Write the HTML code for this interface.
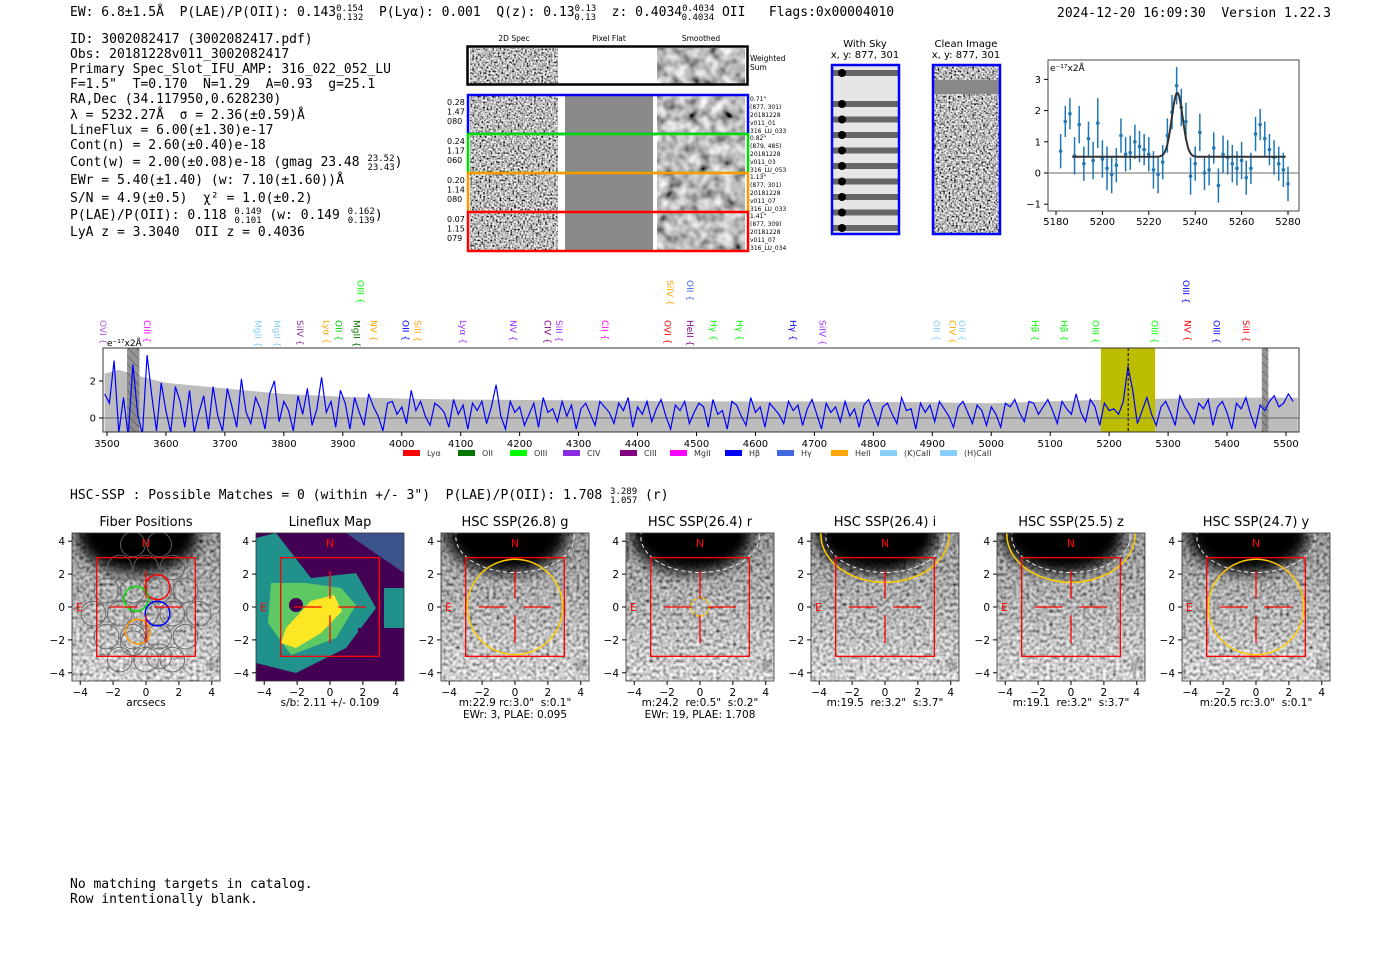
<!DOCTYPE html>
<html><head><meta charset="utf-8">
<style>
body{margin:0;background:#fff;width:1400px;height:953px;overflow:hidden;font-family:"DejaVu Sans","Liberation Sans",sans-serif}
svg{position:absolute;left:0;top:0}
text{white-space:pre}
.mono{font-family:"DejaVu Sans Mono","Liberation Mono",monospace}
</style></head><body>
<svg id="s" width="1400" height="953" xmlns="http://www.w3.org/2000/svg" xml:space="preserve">
<defs>
<filter id="nz" x="0" y="0" width="1" height="1"><feTurbulence type="fractalNoise" baseFrequency="0.55" numOctaves="1" seed="3"/><feColorMatrix type="matrix" values="2.4 0 0 0 -0.7 2.4 0 0 0 -0.7 2.4 0 0 0 -0.7 0 0 0 0 1"/></filter>
<filter id="nzs" x="0" y="0" width="1" height="1"><feTurbulence type="fractalNoise" baseFrequency="0.09" numOctaves="2" seed="7"/><feColorMatrix type="matrix" values="1.4 0 0 0 -0.2 1.4 0 0 0 -0.2 1.4 0 0 0 -0.2 0 0 0 0 1"/></filter>
<filter id="nzl" x="0" y="0" width="1" height="1"><feTurbulence type="fractalNoise" baseFrequency="0.3" numOctaves="1" seed="11"/><feColorMatrix type="matrix" values="1.8 0 0 0 -0.35 1.8 0 0 0 -0.35 1.8 0 0 0 -0.35 0 0 0 0 1"/></filter>
<filter id="blur"><feGaussianBlur stdDeviation="7"/></filter>
<linearGradient id="shade" x1="0" y1="0" x2="0" y2="1"><stop offset="0" stop-color="#000" stop-opacity="0.25"/><stop offset="1" stop-color="#fff" stop-opacity="0.25"/></linearGradient>
<pattern id="hatch" width="6" height="6" patternUnits="userSpaceOnUse" patternTransform="rotate(-45)"><rect width="6" height="6" fill="#888"/><line x1="0" y1="0" x2="0" y2="6" stroke="#333" stroke-width="1"/></pattern>
</defs>

<g class="mono" font-size="13" fill="#000">
<text x="70" y="16">EW: 6.8±1.5Å  P(LAE)/P(OII): 0.143<tspan font-size="9" dy="-5">0.154</tspan><tspan font-size="9" dx="-27" dy="9">0.132</tspan><tspan dy="-4">  P(Lyα): 0.001  Q(z): 0.13</tspan><tspan font-size="9" dy="-5">0.13</tspan><tspan font-size="9" dx="-22" dy="9">0.13</tspan><tspan dy="-4">  z: 0.4034</tspan><tspan font-size="9" dy="-5">0.4034</tspan><tspan font-size="9" dx="-33" dy="9">0.4034</tspan><tspan dy="-4"> OII   Flags:0x00004010</tspan></text>
<text x="1057" y="17">2024-12-20 16:09:30  Version 1.22.3</text>
</g>
<g class="mono" font-size="13" fill="#000">
<text x="70" y="43">ID: 3002082417 (3002082417.pdf)</text>
<text x="70" y="58">Obs: 20181228v011_3002082417</text>
<text x="70" y="73">Primary Spec_Slot_IFU_AMP: 316_022_052_LU</text>
<text x="70" y="88">F=1.5"  T=0.170  N=1.29  A=0.93  g=25.1</text>
<text x="70" y="103">RA,Dec (34.117950,0.628230)</text>
<text x="70" y="119">λ = 5232.27Å  σ = 2.36(±0.59)Å</text>
<text x="70" y="134">LineFlux = 6.00(±1.30)e-17</text>
<text x="70" y="149">Cont(n) = 2.60(±0.40)e-18</text>
<text x="70" y="166">Cont(w) = 2.00(±0.08)e-18 (gmag 23.48 <tspan font-size="9" dy="-5">23.52</tspan><tspan font-size="9" dx="-27" dy="9">23.43</tspan><tspan dy="-4">)</tspan></text>
<text x="70" y="184">EWr = 5.40(±1.40) (w: 7.10(±1.60))Å</text>
<text x="70" y="202">S/N = 4.9(±0.5)  χ² = 1.0(±0.2)</text>
<text x="70" y="219">P(LAE)/P(OII): 0.118 <tspan font-size="9" dy="-5">0.149</tspan><tspan font-size="9" dx="-27" dy="9">0.101</tspan><tspan dy="-4"> (w: 0.149 </tspan><tspan font-size="9" dy="-5">0.162</tspan><tspan font-size="9" dx="-27" dy="9">0.139</tspan><tspan dy="-4">)</tspan></text>
<text x="70" y="236">LyA z = 3.3040  OII z = 0.4036</text>
</g>

<g font-size="7.5">
<text x="514" y="41" text-anchor="middle">2D Spec</text>
<text x="609" y="41" text-anchor="middle">Pixel Flat</text>
<text x="701" y="41" text-anchor="middle">Smoothed</text>
<rect x="470" y="48" width="88" height="36" filter="url(#nz)"/>
<rect x="657" y="48" width="88" height="36" filter="url(#nzs)"/>
<rect x="467.5" y="46.5" width="280" height="38" fill="none" stroke="#000" stroke-width="2.5"/>
<text x="750" y="61">Weighted</text><text x="750" y="70">Sum</text>
<g id="rows"></g>
</g>
<g font-size="10">
<text x="865" y="47" text-anchor="middle">With Sky</text>
<text x="865" y="58" text-anchor="middle">x, y: 877, 301</text>
<text x="966" y="47" text-anchor="middle">Clean Image</text>
<text x="966" y="58" text-anchor="middle">x, y: 877, 301</text>
<rect x="832" y="65" width="67" height="169" fill="#e6e6e6"/>
<g id="skyrows"></g>
<rect x="832" y="65" width="67" height="169" fill="none" stroke="#00f" stroke-width="2.5"/>
<rect x="933" y="65" width="67" height="169" filter="url(#nz)"/>
<rect x="933" y="80" width="67" height="14" fill="#888"/>
<rect x="933" y="65" width="67" height="169" fill="none" stroke="#00f" stroke-width="2.5"/>
</g>

<g id="zoomplot"></g>
<g id="spec"></g>

<text class="mono" x="70" y="499" font-size="13">HSC-SSP : Possible Matches = 0 (within +/- 3")  P(LAE)/P(OII): 1.708 <tspan font-size="9" dy="-5">3.289</tspan><tspan font-size="9" dx="-27" dy="9">1.057</tspan><tspan dy="-4"> (r)</tspan></text>
<g id="panels"></g>

<text class="mono" x="70" y="888" font-size="13">No matching targets in catalog.</text>
<text class="mono" x="70" y="903" font-size="13">Row intentionally blank.</text>
</svg>
<script>
const NS='http://www.w3.org/2000/svg';
function mk(p,t,a){const e=document.createElementNS(NS,t);for(const k in a)e.setAttribute(k,a[k]);p.appendChild(e);return e;}

const rowColors=['#00f','#0d0','#f90','#f00'];
const rowVals=[['0.28','1.47','080'],['0.24','1.17','060'],['0.20','1.14','080'],['0.07','1.15','079']];
const rowInfo=[['0.71"','(877, 301)','20181228','v011_01','316_LU_033'],['0.82"','(879, 485)','20181228','v011_03','316_LU_053'],['1.13"','(877, 301)','20181228','v011_07','316_LU_033'],['1.41"','(877, 309)','20181228','v011_07','316_LU_034']];
const rows=document.getElementById('rows');
rowColors.forEach((c,i)=>{
  const y=95+i*39;
  mk(rows,'rect',{x:470,y:y+1,width:88,height:37,filter:'url(#nz)'});
  mk(rows,'rect',{x:565,y:y+1,width:88,height:37,fill:'#8a8a8a'});
  mk(rows,'rect',{x:657,y:y+1,width:88,height:37,filter:'url(#nzs)'});
  const b=mk(rows,'rect',{x:468,y:y,width:280,height:39,fill:'none',stroke:c,'stroke-width':2.5});
  
  
  rowVals[i].forEach((v,j)=>{const t=mk(rows,'text',{x:447,y:y+10+j*9.5,'font-size':8});t.textContent=v;});
  rowInfo[i].forEach((v,j)=>{const t=mk(rows,'text',{x:750,y:y+6+j*8,'font-size':6});t.textContent=v;});
});
const sky=document.getElementById('skyrows');
for(let k=0;k<11;k++){const y=70+k*15.5; if(k==1)continue;
  mk(sky,'rect',{x:833,y:y,width:65,height:6,fill:'#666'});
  mk(sky,'circle',{cx:842,cy:y+3,r:4,fill:'#000'});}

const fitWave=[5182,5184,5186,5188,5190,5192,5194,5196,5198,5200,5202,5204,5206,5208,5210,5212,5214,5216,5218,5220,5222,5224,5226,5228,5230,5232,5234,5236,5238,5240,5242,5244,5246,5248,5250,5252,5254,5256,5258,5260,5262,5264,5266,5268,5270,5272,5274,5276,5278,5280];
const fitFlux=[0.7,1.65,1.9,0.55,1.55,0.3,1.1,0.4,1.6,0.45,0.15,-0.05,0.25,1.2,0.6,0.65,1.0,0.85,0.75,0.6,0.1,-0.05,0.35,1.2,1.95,2.8,2.1,1.65,-0.1,0.3,1.3,0.0,0.1,0.8,-0.4,0.6,0.5,0.3,0.15,0.4,-0.15,0.15,1.25,1.55,1.1,0.75,0.5,0.3,0.1,-0.35];
const fitErr=[0.55,0.5,0.5,0.6,0.6,0.55,0.55,0.6,0.8,0.6,0.7,0.6,0.55,0.55,0.55,0.55,0.55,0.5,0.5,0.55,0.6,0.6,0.55,0.55,0.55,0.6,0.6,0.6,0.6,0.55,0.6,0.55,0.5,0.5,0.55,0.6,0.55,0.6,0.55,0.6,0.55,0.5,0.55,0.5,0.55,0.5,0.55,0.55,0.55,0.55];
const fitParams=[0.52,2.05,5232.27,2.36];
const zxTicks=[5180,5200,5220,5240,5260,5280], zyTicks=[-1,0,1,2,3];
(function(){
  const g=document.getElementById('zoomplot');
  const X=w=>1056+(w-5180)*2.32, Y=v=>173-v*31.2;
  mk(g,'rect',{x:1048,y:60,width:251,height:151,fill:'none',stroke:'#444'});
  mk(g,'line',{x1:1048,x2:1299,y1:Y(0),y2:Y(0),stroke:'#888','stroke-width':1.3});
  zxTicks.forEach(t=>{mk(g,'line',{x1:X(t),x2:X(t),y1:211,y2:215,stroke:'#000'});const e=mk(g,'text',{x:X(t),y:225,'font-size':10,'text-anchor':'middle'});e.textContent=t;});
  zyTicks.forEach(t=>{mk(g,'line',{x1:1044,x2:1048,y1:Y(t),y2:Y(t),stroke:'#000'});const e=mk(g,'text',{x:1041,y:Y(t)+3.5,'font-size':10,'text-anchor':'end'});e.textContent=t<0?'−'+(-t):t;});
  const lab=mk(g,'text',{x:1050,y:71,'font-size':9});lab.textContent='e⁻¹⁷x2Å';
  fitWave.forEach((w,i)=>{
    const p=mk(g,'line',{x1:X(w),x2:X(w),y1:Y(fitFlux[i]-fitErr[i]),y2:Y(fitFlux[i]+fitErr[i]),stroke:'#1f77b4','stroke-width':1.5});
    
    
    mk(g,'circle',{cx:X(w),cy:Y(fitFlux[i]),r:1.8,fill:'#1f77b4'});
  });
  let d='';for(let w=5187;w<=5279;w+=0.5){const v=fitParams[0]+fitParams[1]*Math.exp(-0.5*((w-fitParams[2])/fitParams[3])**2);d+=(d?'L':'M')+X(w).toFixed(1)+','+Y(v).toFixed(1);}
  const f=mk(g,'path',{d:d,fill:'none',stroke:'#333','stroke-width':2});
  
  
})();

const specStart=3496, specStep=8;
const specFlux=[1.3,0.8,3.1,-0.8,1.1,-1,2.9,0.2,-0.9,3.4,1.2,-0.7,1.9,0.4,-0.8,1.7,0.9,-0.5,1.5,-0.8,0.3,1.2,-0.6,1.7,0.1,
-0.7,1.6,0.6,-0.5,2.1,0.3,-0.3,1.1,0.5,-0.6,1.3,2.0,-0.2,0.9,0.4,-0.7,1.2,0.2,1.6,-0.4,0.5,2.2,0.3,0.9,-0.5,
1.5,0.8,-0.6,1.1,0.3,-0.4,1.3,0.6,0.1,-0.7,0.8,0.9,0.2,0.6,-0.3,1.5,0.4,0.9,0.1,-0.4,0.8,0.6,0.3,-0.5,1.0,
0.2,0.7,-0.6,0.8,0.4,0.9,-0.3,0.6,1.8,0.1,-0.6,0.9,0.3,0.6,-0.4,0.2,0.8,-0.5,1.1,0.3,0.5,-0.2,0.9,0.1,0.7,
-0.6,0.5,0.8,0.2,-0.4,0.9,0.6,0.3,-0.3,0.8,0.4,1.1,-0.5,0.6,0.2,0.9,-0.2,0.5,1.0,0.1,-0.6,0.7,0.4,0.9,-0.3,
0.3,0.8,0.6,-0.5,1.0,0.2,0.4,-0.6,0.9,0.7,0.1,-0.4,1.1,0.3,0.6,-0.5,0.8,0.5,0.2,-0.3,0.9,0.4,0.7,-0.4,0.5,
1.0,0.2,-0.6,0.8,0.3,0.6,-0.2,0.9,0.1,0.5,-0.5,0.7,1.0,0.3,-0.4,0.6,0.8,0.2,-0.3,1.1,0.4,0.5,-0.6,0.8,0.3,
0.7,-0.2,0.9,0.5,0.1,-0.5,0.6,0.9,0.3,-0.3,0.7,0.4,-0.4,0.6,0.2,-0.5,0.8,0.6,1.0,0.3,-0.2,0.9,0.8,0.2,0.6,
1.0,0.4,-0.3,0.9,0.5,0.2,1.3,0.3,-0.2,1.0,0.6,-0.4,0.8,0.4,0.5,0.2,0.9,2.8,1.5,-0.3,0.4,1.1,0.2,-0.4,0.6,
0.9,0.3,-0.4,1.2,0.6,0.2,-0.3,0.8,0.5,1.0,-0.4,0.6,0.9,0.3,-0.6,0.8,0.5,1.1,0.2,-0.5,0.7,0.4,0.9,1.2,0.6,
0.8,1.3,0.9];
const errWave=[3496,3520,3550,3600,3650,3700,3750,3800,3900,4000,4100,4300,4500,4700,4900,5000,5100,5200,5300,5400,5520];
const errLevel=[2.4,2.6,2.3,1.9,1.75,1.6,1.45,1.3,1.15,1.05,1.0,0.95,0.9,0.9,0.85,0.8,0.9,1.0,1.05,1.1,1.1];
const specTicks=[3500,3600,3700,3800,3900,4000,4100,4200,4300,4400,4500,4600,4700,4800,4900,5000,5100,5200,5300,5400,5500];
const lineNames=['OVI','CIII','MgII','MgII','SiIV','Lyα','OII','MgII','OIII','NV','OII','SiII','Lyα','NV','CIV','SiII','CII','OVI','SiIV','OII','HeII','Hγ','Hγ','Hγ','SiIV','OII','CIV','OII','Hβ','Hβ','OIII','OIII','OIII','NV','OIII','SiII'];
const lineWave=[3493,3568,3756,3788,3827,3872,3893,3923,3930,3952,4006,4027,4104,4189,4247,4267,4345,4451,4455,4489,4489,4529,4573,4664,4714,4907,4934,4950,5074,5123,5177,5277,5330,5333,5382,5432];
const lineRow=[0,0,0,0,0,0,0,0,1,0,0,0,0,0,0,0,0,0,1,1,0,0,0,0,0,0,0,0,0,0,0,0,1,0,0,0];
const lineColors=['#b05ad8','#f0f','#87cefa','#87cefa','#8b2fa0','#ffa500','#0c0','#070','#0f0','#ffa500','#00f','#ffa500','#9b30ff','#9b30ff','#800080','#9b30ff','#f0f','#f00','#ffa500','#4169e1','#800080','#0f0','#0f0','#00f','#9b30ff','#87cefa','#ffa500','#87cefa','#0f0','#0f0','#0f0','#0f0','#00f','#f00','#00f','#f00'];
(function(){
  const g=document.getElementById('spec');
  const X=w=>107+(w-3500)*0.5895, Y=v=>418-v*18.5;
  const L=103,R=1299,T=348,B=432;
  const clip=mk(g,'clipPath',{id:'sc'});mk(clip,'rect',{x:L,y:T,width:R-L,height:B-T});
  const pg=mk(g,'g',{'clip-path':'url(#sc)'});
  let d='M'+X(errWave[0])+','+B;errWave.forEach((w,i)=>d+='L'+X(w).toFixed(1)+','+Y(errLevel[i]).toFixed(1));d+='L'+X(errWave[errWave.length-1])+','+B+'Z';
  const eb=mk(pg,'path',{d:d,fill:'#bdbdbd'});
  
  
  const yb=mk(pg,'rect',{x:X(5186),y:T,width:X(5278)-X(5186),height:B-T,fill:'#bdbd00'});
  
  
  mk(pg,'rect',{x:X(3534),y:T,width:X(3555)-X(3534),height:B-T,fill:'url(#hatch)',opacity:0.9});
  mk(pg,'rect',{x:X(5459),y:T,width:X(5470)-X(5459),height:B-T,fill:'url(#hatch)',opacity:0.9});
  mk(pg,'line',{x1:L,x2:R,y1:Y(0),y2:Y(0),stroke:'#666','stroke-width':1});
  let p='';specFlux.forEach((v,i)=>p+=(i?'L':'M')+X(specStart+i*specStep).toFixed(1)+','+Y(v).toFixed(1));
  const sp=mk(pg,'path',{d:p,fill:'none',stroke:'#00f','stroke-width':1.2});
  
  
  mk(pg,'line',{x1:X(5232.3),x2:X(5232.3),y1:T,y2:B,stroke:'#000','stroke-dasharray':'3,2','stroke-width':1});
  mk(g,'rect',{x:L,y:T,width:R-L,height:B-T,fill:'none',stroke:'#333'});
  specTicks.forEach(t=>{mk(g,'line',{x1:X(t),x2:X(t),y1:B,y2:B+4,stroke:'#000'});const e=mk(g,'text',{x:X(t),y:447,'font-size':10,'text-anchor':'middle'});e.textContent=t;});
  [0,2].forEach(t=>{mk(g,'line',{x1:L-4,x2:L,y1:Y(t),y2:Y(t),stroke:'#000'});const e=mk(g,'text',{x:L-7,y:Y(t)+3.5,'font-size':10,'text-anchor':'end'});e.textContent=t;});
  const lb=mk(g,'text',{x:107,y:346,'font-size':9});lb.textContent='e⁻¹⁷x2Å';
  lineNames.forEach((n,i)=>{
    const x=X(lineWave[i]), y=lineRow[i]?280:320;
    const t=mk(g,'text',{x:0,y:0,'font-size':9,fill:lineColors[i],transform:`translate(${x-3},${y}) rotate(90)`});
    t.textContent=n+' {';
    
    
  });
  const legN=['Lyα','OII','OIII','CIV','CIII','MgII','Hβ','Hγ','HeII','(K)CaII','(H)CaII'];
  const legC=['#f00','#070','#0f0','#8a2be2','#800080','#f0f','#00f','#4169e1','#ffa500','#87cefa','#87cefa'];
  const legX=[403,458,510,563,620,670,725,777,831,880,940];
  legN.forEach((n,i)=>{mk(g,'rect',{x:legX[i],y:450,width:17,height:6,fill:legC[i]});const t=mk(g,'text',{x:legX[i]+24,y:456,'font-size':8,fill:'#333'});t.textContent=n;});
})();

const panelTitles=['Fiber Positions','Lineflux Map','HSC SSP(26.8) g','HSC SSP(26.4) r','HSC SSP(26.4) i','HSC SSP(25.5) z','HSC SSP(24.7) y'];
const panelCaps=[['arcsecs'],['s/b: 2.11 +/- 0.109'],['m:22.9 rc:3.0"  s:0.1"','EWr: 3, PLAE: 0.095'],['m:24.2  re:0.5"  s:0.2"','EWr: 19, PLAE: 1.708'],['m:19.5  re:3.2"  s:3.7"'],['m:19.1  re:3.2"  s:3.7"'],['m:20.5 rc:3.0"  s:0.1"']];
const panelX=[72,256,441,626,811,997,1182];
const apRadius=[0,0,2.9,0.55,4.2,4.2,2.9];
const apCy=[0,0,0,0,4.4,4.4,0];
const axTicks=[-4,-2,0,2,4];
const fiberX=[-0.8,0.8,-1.6,0.0,1.6,-2.4,-0.8,0.8,2.4,-3.2,-1.6,0.0,1.6,3.2,-2.4,-0.8,0.8,2.4,-1.6,0.0,1.6,-0.8,0.8];
const fiberY=[3.8,3.8,2.4,2.4,2.4,1.0,1.0,1.0,1.0,-0.4,-0.4,-0.4,-0.4,-0.4,-1.8,-1.8,-1.8,-1.8,-3.2,-3.2,-3.2,-2.2,-3.0];
const pg=document.getElementById('panels');
panelTitles.forEach((ti,i)=>{
  const x0=panelX[i],y0=533,W=148,u=W/9,cx=x0+W/2,cy=y0+W/2;
  const P=(a,b)=>[cx+a*u,cy-b*u];
  const g=mk(pg,'g',{});
  
  
  const cp=mk(g,'clipPath',{id:'pc'+i});mk(cp,'rect',{x:x0,y:y0,width:W,height:W});
  const ig=mk(g,'g',{'clip-path':'url(#pc'+i+')'});
  if(i==1){
    mk(ig,'rect',{x:x0,y:y0,width:W,height:W,fill:'#440154'});
    mk(ig,'polygon',{points:`${x0+90},${y0} ${x0+W},${y0} ${x0+W},${y0+40}`,fill:'#3b528b'});
    mk(ig,'polygon',{points:`${x0},${y0+5} ${x0+20},${y0} ${x0+55},${y0+45} ${x0+100},${y0+40} ${x0+120},${y0+75} ${x0+90},${y0+115} ${x0+40},${y0+140} ${x0},${y0+130}`,fill:'#21918c'});
    mk(ig,'polygon',{points:`${x0+15},${y0+50} ${x0+50},${y0+50} ${x0+85},${y0+55} ${x0+100},${y0+72} ${x0+80},${y0+105} ${x0+35},${y0+122} ${x0+12},${y0+90}`,fill:'#5ec962'});
    mk(ig,'polygon',{points:`${x0+30},${y0+95} ${x0+55},${y0+68} ${x0+78},${y0+62} ${x0+86},${y0+78} ${x0+65},${y0+100} ${x0+40},${y0+115} ${x0+25},${y0+110}`,fill:'#fde725'});
    mk(ig,'circle',{cx:x0+40,cy:y0+72,r:7,fill:'#440154'});
    mk(ig,'rect',{x:x0+128,y:y0+55,width:20,height:40,fill:'#21918c'});
    mk(ig,'rect',{x:x0+102,y:y0+95,width:30,height:30,fill:'#440154'});
  } else {
    mk(ig,'rect',{x:x0,y:y0,width:W,height:W,filter:'url(#nzl)'});
    mk(ig,'rect',{x:x0,y:y0,width:W,height:W,fill:'url(#shade)'});
    mk(ig,'ellipse',{cx:cx-8,cy:y0+2,rx:60,ry:38,fill:'#000',filter:'url(#blur)'});
    mk(ig,'circle',{cx:x0+W-8,cy:y0+W-16,r:5,fill:'#111',opacity:0.8,filter:'url(#blur)'});
  }
  if(i==0){
    fiberX.forEach((fx,k)=>{const [a,b]=P(fx,fiberY[k]);mk(ig,'circle',{cx:a,cy:b,r:0.75*u,fill:'none',stroke:'#666','stroke-width':0.9});});
    [[0.7,1.2,'#f00'],[-0.6,0.5,'#0d0'],[0.7,-0.4,'#00f'],[-0.5,-1.5,'#f90']].forEach(f=>{const [a,b]=P(f[0],f[1]);mk(ig,'circle',{cx:a,cy:b,r:0.75*u,fill:'none',stroke:f[2],'stroke-width':1.5});});
  }
  if(i>=2){
    const [a,b]=P(0,apCy[i]);
    const [d1,d2]=P(0,4.3); mk(ig,'ellipse',{cx:d1,cy:d2,rx:3.6*u,ry:2.2*u,fill:'none',stroke:'#eee','stroke-dasharray':'4,3'});
    if(i==4||i==5) mk(ig,'ellipse',{cx:a,cy:b,rx:3.9*u,ry:2.9*u,fill:'none',stroke:'#fc0','stroke-width':1.5});
    else mk(ig,'circle',{cx:a,cy:b,r:apRadius[i]*u,fill:'none',stroke:'#fc0','stroke-width':1.5,'stroke-dasharray':i==3?'3,2':'none'});
  }
  const [sx,sy]=P(-3,3);
  mk(ig,'rect',{x:sx,y:sy,width:6*u,height:6*u,fill:'none',stroke:'#f00','stroke-width':1.3});
  [[-2.2,0,-0.5,0],[0.5,0,2.2,0],[0,2.2,0,0.5],[0,-0.5,0,-2.2]].forEach(s=>{const [a,b]=P(s[0],s[1]),[c,d]=P(s[2],s[3]);mk(ig,'line',{x1:a,y1:b,x2:c,y2:d,stroke:'#f00','stroke-width':1.3});});
  let t=mk(ig,'text',{x:cx,y:y0+14,'font-size':11,fill:'#f00','text-anchor':'middle'});t.textContent='N';
  t=mk(ig,'text',{x:x0+4,y:cy+4,'font-size':11,fill:'#f00'});t.textContent='E';
  mk(g,'rect',{x:x0,y:y0,width:W,height:W,fill:'none',stroke:'#333','stroke-width':0.8});
  t=mk(g,'text',{x:cx,y:526,'font-size':13,'text-anchor':'middle'});t.textContent=ti;
  axTicks.forEach(v=>{
    const [a]=P(v,0),[,b]=P(0,v);
    mk(g,'line',{x1:a,x2:a,y1:y0+W,y2:y0+W+4,stroke:'#000'});
    let e=mk(g,'text',{x:a,y:y0+W+15,'font-size':10.5,'text-anchor':'middle'});e.textContent=v<0?'−'+(-v):v;
    mk(g,'line',{x1:x0-4,x2:x0,y1:b,y2:b,stroke:'#000'});
    e=mk(g,'text',{x:x0-7,y:b+4,'font-size':10.5,'text-anchor':'end'});e.textContent=v<0?'−'+(-v):v;
  });
  panelCaps[i].forEach((c,k)=>{const e=mk(g,'text',{x:cx,y:706+k*12,'font-size':10.5,'text-anchor':'middle'});e.textContent=c;});
});
</script>
</body></html>
